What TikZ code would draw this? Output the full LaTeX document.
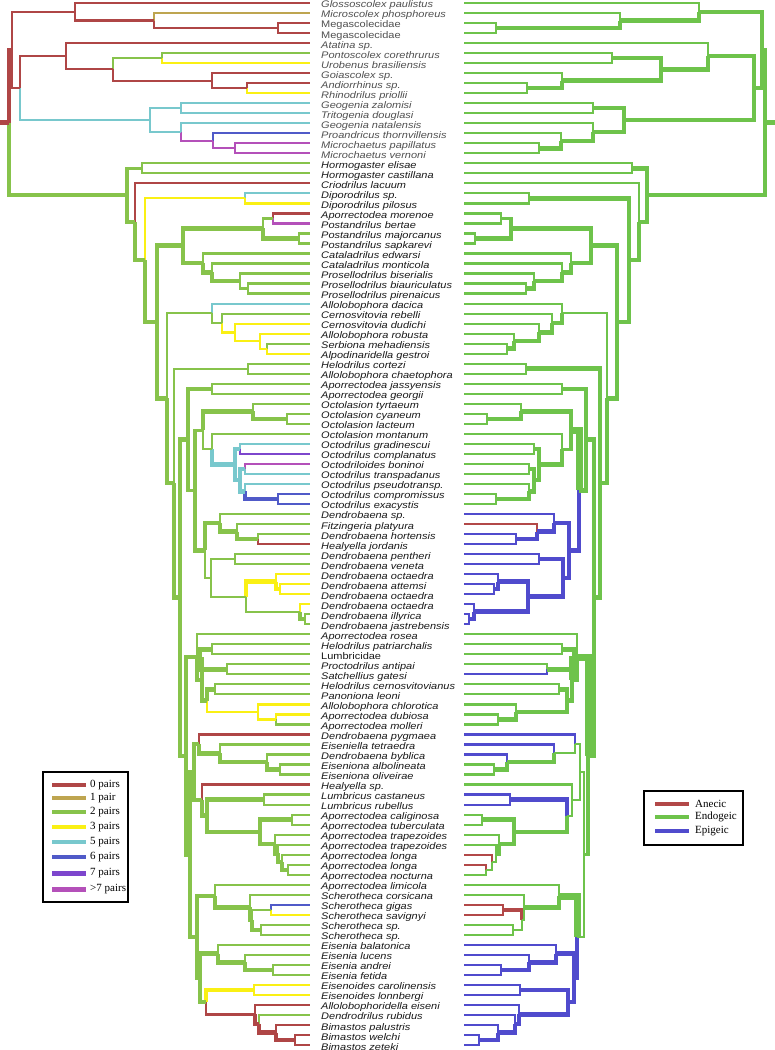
\documentclass[tikz,border=0pt]{standalone}
\usepackage{fontspec}
\setmainfont{Liberation Sans}
\newfontfamily\serifL{Liberation Serif}
\usetikzlibrary{calc}
\definecolor{p0}{RGB}{175,70,70}
\definecolor{p1}{RGB}{190,165,80}
\definecolor{p2}{RGB}{135,195,75}
\definecolor{p3}{RGB}{250,240,20}
\definecolor{p5}{RGB}{120,200,205}
\definecolor{p6}{RGB}{80,90,200}
\definecolor{p7}{RGB}{125,70,205}
\definecolor{p8}{RGB}{180,80,185}
\definecolor{an}{RGB}{178,72,72}
\definecolor{en}{RGB}{110,195,75}
\definecolor{ep}{RGB}{80,75,205}
\definecolor{txt}{RGB}{25,25,25}
\definecolor{txg}{RGB}{80,80,80}
\newcommand\tax[3]{%
  \coordinate (L-t#1) at (310,#1);
  \coordinate (R-t#1) at (464,#1);
  \node[lab,#3] (n#1) at (321,#1+0.22) {\scalebox{1}[0.87]{#2}};}
\newcommand\cla[8]{%
  \path let \p1=($(L-#3)!.5!(L-#4)$) in (#2pt,\y1) coordinate (L-#1) ({(774-#2)*1pt},\y1) coordinate (R-#1);
  \draw[#5] (L-#1) |- (L-#3);
  \draw[#6] (R-#1) |- (R-#3);
  \draw[#7] (L-#1) |- (L-#4);
  \draw[#8] (R-#1) |- (R-#4);}
\begin{document}
\begin{tikzpicture}[x=1pt,y=-10.02pt,line join=miter,
  w1/.style={line width=2.2pt},
  w2/.style={line width=3.2pt},
  w3/.style={line width=4.5pt},
  w4/.style={line width=7pt},
  lab/.style={anchor=west,inner sep=0pt,text height=8pt,text depth=2.5pt,text=txt,font=\fontsize{11}{11}\selectfont\itshape},
  up/.style={font=\fontsize{11}{11}\selectfont\upshape},
  gr/.style={text=txg},
  leg/.style={anchor=west,inner sep=0pt,font=\serifL\fontsize{11}{11}\selectfont}]
\useasboundingbox (0,0.7006) rectangle (774,105.49);
\fill[white] (0,0.7006) rectangle (774,105.49);
% taxa
\tax{1}{Glossoscolex paulistus}{gr}
\tax{2}{Microscolex phosphoreus}{gr}
\tax{3}{Megascolecidae}{gr,up}
\tax{4}{Megascolecidae}{gr,up}
\tax{5}{Atatina sp.}{gr}
\tax{6}{Pontoscolex corethrurus}{gr}
\tax{7}{Urobenus brasiliensis}{gr}
\tax{8}{Goiascolex sp.}{gr}
\tax{9}{Andiorrhinus sp.}{gr}
\tax{10}{Rhinodrilus priollii}{gr}
\tax{11}{Geogenia zalomisi}{gr}
\tax{12}{Tritogenia douglasi}{gr}
\tax{13}{Geogenia natalensis}{gr}
\tax{14}{Proandricus thornvillensis}{gr}
\tax{15}{Microchaetus papillatus}{gr}
\tax{16}{Microchaetus vernoni}{gr}
\tax{17}{Hormogaster elisae}{}
\tax{18}{Hormogaster castillana}{}
\tax{19}{Criodrilus lacuum}{}
\tax{20}{Diporodrilus sp.}{}
\tax{21}{Diporodrilus pilosus}{}
\tax{22}{Aporrectodea morenoe}{}
\tax{23}{Postandrilus bertae}{}
\tax{24}{Postandrilus majorcanus}{}
\tax{25}{Postandrilus sapkarevi}{}
\tax{26}{Cataladrilus edwarsi}{}
\tax{27}{Cataladrilus monticola}{}
\tax{28}{Prosellodrilus biserialis}{}
\tax{29}{Prosellodrilus biauriculatus}{}
\tax{30}{Prosellodrilus pirenaicus}{}
\tax{31}{Allolobophora dacica}{}
\tax{32}{Cernosvitovia rebelli}{}
\tax{33}{Cernosvitovia dudichi}{}
\tax{34}{Allolobophora robusta}{}
\tax{35}{Serbiona mehadiensis}{}
\tax{36}{Alpodinaridella gestroi}{}
\tax{37}{Helodrilus cortezi}{}
\tax{38}{Allolobophora chaetophora}{}
\tax{39}{Aporrectodea jassyensis}{}
\tax{40}{Aporrectodea georgii}{}
\tax{41}{Octolasion tyrtaeum}{}
\tax{42}{Octolasion cyaneum}{}
\tax{43}{Octolasion lacteum}{}
\tax{44}{Octolasion montanum}{}
\tax{45}{Octodrilus gradinescui}{}
\tax{46}{Octodrilus complanatus}{}
\tax{47}{Octodriloides boninoi}{}
\tax{48}{Octodrilus transpadanus}{}
\tax{49}{Octodrilus pseudotransp.}{}
\tax{50}{Octodrilus compromissus}{}
\tax{51}{Octodrilus exacystis}{}
\tax{52}{Dendrobaena sp.}{}
\tax{53}{Fitzingeria platyura}{}
\tax{54}{Dendrobaena hortensis}{}
\tax{55}{Healyella jordanis}{}
\tax{56}{Dendrobaena pentheri}{}
\tax{57}{Dendrobaena veneta}{}
\tax{58}{Dendrobaena octaedra}{}
\tax{59}{Dendrobaena attemsi}{}
\tax{60}{Dendrobaena octaedra}{}
\tax{61}{Dendrobaena octaedra}{}
\tax{62}{Dendrobaena illyrica}{}
\tax{63}{Dendrobaena jastrebensis}{}
\tax{64}{Aporrectodea rosea}{}
\tax{65}{Helodrilus patriarchalis}{}
\tax{66}{Lumbricidae}{up}
\tax{67}{Proctodrilus antipai}{}
\tax{68}{Satchellius gatesi}{}
\tax{69}{Helodrilus cernosvitovianus}{}
\tax{70}{Panoniona leoni}{}
\tax{71}{Allolobophora chlorotica}{}
\tax{72}{Aporrectodea dubiosa}{}
\tax{73}{Aporrectodea molleri}{}
\tax{74}{Dendrobaena pygmaea}{}
\tax{75}{Eiseniella tetraedra}{}
\tax{76}{Dendrobaena byblica}{}
\tax{77}{Eiseniona albolineata}{}
\tax{78}{Eiseniona oliveirae}{}
\tax{79}{Healyella sp.}{}
\tax{80}{Lumbricus castaneus}{}
\tax{81}{Lumbricus rubellus}{}
\tax{82}{Aporrectodea caliginosa}{}
\tax{83}{Aporrectodea tuberculata}{}
\tax{84}{Aporrectodea trapezoides}{}
\tax{85}{Aporrectodea trapezoides}{}
\tax{86}{Aporrectodea longa}{}
\tax{87}{Aporrectodea longa}{}
\tax{88}{Aporrectodea nocturna}{}
\tax{89}{Aporrectodea limicola}{}
\tax{90}{Scherotheca corsicana}{}
\tax{91}{Scherotheca gigas}{}
\tax{92}{Scherotheca savignyi}{}
\tax{93}{Scherotheca sp.}{}
\tax{94}{Scherotheca sp.}{}
\tax{95}{Eisenia balatonica}{}
\tax{96}{Eisenia lucens}{}
\tax{97}{Eisenia andrei}{}
\tax{98}{Eisenia fetida}{}
\tax{99}{Eisenoides carolinensis}{}
\tax{100}{Eisenoides lonnbergi}{}
\tax{101}{Allolobophoridella eiseni}{}
\tax{102}{Dendrodrilus rubidus}{}
\tax{103}{Bimastos palustris}{}
\tax{104}{Bimastos welchi}{}
\tax{105}{Bimastos zeteki}{}
% clades (name, x, child1, child2, L1, R1, L2, R2)
\cla{Mega}{278}{t3}{t4}{p0,w1}{en,w1}{p0,w1}{en,w1}
\cla{A1b}{154}{t2}{Mega}{p1,w1}{en,w1}{p0,w1}{en,w3}
\cla{A1}{75}{t1}{A1b}{p0,w1}{en,w1}{p0,w1}{en,w3}
\cla{PU}{162}{t6}{t7}{p2,w1}{en,w1}{p3,w1}{en,w1}
\cla{AR}{247}{t9}{t10}{p0,w1}{en,w1}{p3,w1}{en,w1}
\cla{GAR}{212}{t8}{AR}{p0,w1}{en,w1}{p0,w1}{en,w3}
\cla{AAa}{113}{PU}{GAR}{p2,w1}{en,w3}{p0,w1}{en,w3}
\cla{Aa}{66}{t5}{AAa}{p0,w1}{en,w1}{p0,w1}{en,w3}
\cla{GT}{181}{t11}{t12}{p5,w1}{en,w1}{p5,w1}{en,w1}
\cla{M}{235}{t15}{t16}{p8,w1}{en,w1}{p8,w1}{en,w1}
\cla{PM}{213}{t14}{M}{p6,w1}{en,w1}{p8,w1}{en,w3}
\cla{GP}{181}{t13}{PM}{p5,w1}{en,w1}{p8,w1}{en,w3}
\cla{Ab}{150}{GT}{GP}{p5,w1}{en,w3}{p5,w1}{en,w3}
\cla{AA}{20}{Aa}{Ab}{p0,w1}{en,w3}{p5,w1}{en,w3}
\cla{A}{12}{A1}{AA}{p0,w1}{en,w3}{p0,w1}{en,w3}
\cla{H}{142}{t17}{t18}{p2,w1}{en,w1}{p2,w1}{en,w1}
\cla{Dip}{245}{t20}{t21}{p5,w1}{en,w1}{p3,w1}{en,w1}
\cla{AP}{273}{t22}{t23}{p0,w1}{en,w1}{p8,w1}{en,w1}
\cla{PMS}{299}{t24}{t25}{p2,w1}{en,w1}{p2,w1}{en,w1}
\cla{Post}{263}{AP}{PMS}{p2,w1}{en,w2}{p2,w3}{en,w3}
\cla{Pros2}{248}{t29}{t30}{p2,w1}{en,w1}{p2,w1}{en,w1}
\cla{Pros}{240}{t28}{Pros2}{p2,w1}{en,w1}{p2,w1}{en,w3}
\cla{CP2}{212}{t27}{Pros}{p2,w1}{en,w1}{p2,w3}{en,w3}
\cla{CP}{203}{t26}{CP2}{p2,w1}{en,w1}{p2,w3}{en,w3}
\cla{PC}{183}{Post}{CP}{p2,w3}{en,w3}{p2,w3}{en,w3}
\cla{SA}{267}{t35}{t36}{p2,w1}{en,w1}{p3,w1}{en,w1}
\cla{DC4}{260}{t34}{SA}{p3,w1}{en,w1}{p3,w1}{en,w3}
\cla{DC3}{235}{t33}{DC4}{p3,w1}{en,w1}{p3,w1}{en,w3}
\cla{DC2}{222}{t32}{DC3}{p2,w1}{en,w1}{p3,w1}{en,w3}
\cla{DC}{212}{t31}{DC2}{p5,w1}{en,w1}{p2,w1}{en,w3}
\cla{HC}{248}{t37}{t38}{p2,w1}{en,w1}{p2,w1}{en,w1}
\cla{AJ}{212}{t39}{t40}{p2,w1}{en,w1}{p2,w1}{en,w1}
\cla{OL}{287}{t42}{t43}{p2,w1}{en,w1}{p2,w1}{en,w1}
\cla{Oct}{253}{t41}{OL}{p2,w1}{en,w1}{p2,w3}{en,w3}
\cla{GC}{240}{t45}{t46}{p5,w1}{en,w1}{p7,w1}{en,w1}
\cla{BT}{245}{t47}{t48}{p8,w1}{en,w1}{p5,w1}{en,w1}
\cla{CE}{278}{t50}{t51}{p6,w1}{en,w1}{p6,w1}{en,w1}
\cla{PCE}{245}{t49}{CE}{p5,w1}{en,w1}{p6,w3}{en,w3}
\cla{OD2}{240}{BT}{PCE}{p5,w3}{en,w3}{p5,w3}{en,w3}
\cla{OD}{235}{GC}{OD2}{p5,w3}{en,w3}{p5,w3}{en,w3}
\cla{OM}{212}{t44}{OD}{p2,w1}{en,w1}{p5,w3}{en,w3}
\cla{OO}{203}{Oct}{OM}{p2,w3}{en,w3}{p2,w1}{en,w2}
\cla{HJ}{258}{t54}{t55}{p2,w1}{ep,w1}{p0,w1}{ep,w1}
\cla{FH}{237}{t53}{HJ}{p2,w1}{an,w1}{p2,w3}{ep,w3}
\cla{DF}{220}{t52}{FH}{p2,w1}{ep,w1}{p2,w3}{ep,w3}
\cla{PV}{235}{t56}{t57}{p2,w1}{ep,w1}{p2,w1}{ep,w1}
\cla{A59}{280}{t59}{t60}{p3,w1}{ep,w1}{p3,w1}{ep,w1}
\cla{OA}{276}{t58}{A59}{p3,w1}{ep,w1}{p3,w3}{ep,w3}
\cla{IJ}{305}{t62}{t63}{p2,w1}{ep,w1}{p2,w1}{ep,w1}
\cla{OIJ}{300}{t61}{IJ}{p3,w1}{ep,w1}{p2,w3}{ep,w3}
\cla{OCT}{246}{OA}{OIJ}{p3,w3}{ep,w3}{p2,w1}{ep,w3}
\cla{PVO}{211}{PV}{OCT}{p2,w1}{ep,w3}{p2,w1}{ep,w3}
\cla{DB}{205}{DF}{PVO}{p2,w3}{ep,w3}{p2,w1}{ep,w3}
\cla{ODB}{195}{OO}{DB}{p2,w2}{en,w4}{p2,w3}{ep,w3}
\cla{AJODB}{188}{AJ}{ODB}{p2,w3}{en,w3}{p2,w2}{en,w3}
\cla{HL}{212}{t65}{t66}{p2,w1}{en,w1}{p2,w1}{en,w1}
\cla{PS}{227}{t67}{t68}{p2,w1}{en,w1}{p2,w1}{ep,w1}
\cla{HLPS}{200}{HL}{PS}{p2,w3}{en,w3}{p2,w3}{en,w3}
\cla{HP}{215}{t69}{t70}{p2,w1}{en,w1}{p2,w1}{en,w1}
\cla{DM}{276}{t72}{t73}{p3,w1}{en,w1}{p2,w1}{en,w1}
\cla{CDM}{258}{t71}{DM}{p3,w1}{en,w1}{p3,w1}{en,w3}
\cla{HPC}{207}{HP}{CDM}{p2,w3}{en,w3}{p3,w1}{en,w3}
\cla{X1b}{202}{HLPS}{HPC}{p2,w3}{en,w4}{p2,w3}{en,w3}
\cla{X1}{197}{t64}{X1b}{p2,w1}{en,w1}{p2,w3}{en,w3}
\cla{AO}{280}{t77}{t78}{p2,w1}{en,w1}{p2,w1}{en,w1}
\cla{BE}{267}{t76}{AO}{p2,w1}{ep,w1}{p2,w3}{en,w3}
\cla{TBE}{220}{t75}{BE}{p2,w1}{ep,w1}{p2,w3}{en,w3}
\cla{X2}{199}{t74}{TBE}{p0,w1}{ep,w1}{p2,w3}{en,w1}
\cla{LU}{264}{t80}{t81}{p2,w1}{ep,w1}{p2,w1}{ep,w1}
\cla{CT}{292}{t82}{t83}{p2,w1}{en,w1}{p2,w1}{en,w1}
\cla{T4}{288}{t87}{t88}{p2,w1}{an,w1}{p2,w1}{en,w1}
\cla{T3}{282}{t86}{T4}{p2,w1}{an,w1}{p2,w3}{en,w1}
\cla{T2}{278}{t85}{T3}{p2,w1}{en,w1}{p2,w3}{en,w1}
\cla{T1}{275}{t84}{T2}{p2,w1}{en,w1}{p2,w3}{en,w3}
\cla{CTT}{260}{CT}{T1}{p2,w3}{en,w3}{p2,w3}{en,w3}
\cla{LCT}{207}{LU}{CTT}{p2,w3}{ep,w3}{p2,w3}{en,w3}
\cla{X3}{202}{t79}{LCT}{p0,w1}{en,w1}{p2,w3}{en,w1}
\cla{X23}{194}{X2}{X3}{p2,w3}{en,w1}{p2,w3}{en,w1}
\cla{GS}{271}{t91}{t92}{p6,w1}{an,w1}{p3,w1}{an,w1}
\cla{SS}{261}{t93}{t94}{p2,w1}{en,w1}{p2,w1}{en,w1}
\cla{GSS}{252}{GS}{SS}{p2,w1}{an,w3}{p2,w3}{en,w1}
\cla{CGS}{250}{t90}{GSS}{p2,w1}{en,w1}{p2,w3}{en,w1}
\cla{X4}{215}{t89}{CGS}{p2,w1}{en,w1}{p2,w3}{en,w3}
\cla{AF}{273}{t97}{t98}{p2,w1}{ep,w1}{p2,w1}{ep,w1}
\cla{LAF}{245}{t96}{AF}{p2,w1}{ep,w1}{p2,w3}{ep,w3}
\cla{X5}{218}{t95}{LAF}{p2,w1}{ep,w1}{p2,w3}{ep,w3}
\cla{EC}{254}{t99}{t100}{p3,w1}{ep,w1}{p3,w1}{ep,w1}
\cla{WZ}{295}{t104}{t105}{p0,w1}{ep,w1}{p0,w1}{ep,w1}
\cla{PWZ}{276}{t103}{WZ}{p0,w1}{ep,w1}{p0,w3}{ep,w3}
\cla{DBz}{259}{t102}{PWZ}{p2,w1}{ep,w1}{p0,w3}{ep,w3}
\cla{ADB}{255}{t101}{DBz}{p0,w1}{ep,w1}{p0,w3}{ep,w3}
\cla{X6}{206}{EC}{ADB}{p3,w3}{ep,w3}{p0,w1}{ep,w3}
\cla{X56}{200}{X5}{X6}{p2,w3}{ep,w3}{p2,w3}{ep,w3}
\cla{X456}{197}{X4}{X56}{p2,w3}{en,w4}{p2,w3}{ep,w3}
\cla{X236}{190}{X23}{X456}{p2,w3}{en,w1}{p2,w3}{en,w1}
\cla{LOW}{186}{X1}{X236}{p2,w3}{en,w4}{p2,w3}{en,w2}
\cla{B7}{180}{AJODB}{LOW}{p2,w3}{en,w3}{p2,w3}{en,w3}
\cla{B6}{174}{HC}{B7}{p2,w1}{en,w3}{p2,w3}{en,w3}
\cla{B5}{167}{DC}{B6}{p2,w1}{en,w1}{p2,w3}{en,w3}
\cla{B4}{157}{PC}{B5}{p2,w3}{en,w3}{p2,w3}{en,w3}
\cla{B3}{145}{Dip}{B4}{p3,w1}{en,w3}{p2,w3}{en,w3}
\cla{B2}{135}{t19}{B3}{p0,w1}{en,w1}{p2,w3}{en,w3}
\cla{B}{127}{H}{B2}{p2,w2}{en,w3}{p2,w3}{en,w3}
\cla{Root}{9}{A}{B}{p0,w3}{en,w3}{p2,w3}{en,w3}
\path (L-Root) ++(-10pt,0) coordinate (L-stub);
\path (R-Root) ++(10pt,0) coordinate (R-stub);
\draw[p0,w3] (L-Root) -- (L-stub);
\draw[en,w3] (R-Root) -- (R-stub);
% legend left
\draw[line width=1.5pt] (43,77.75) rectangle (128,90.72);
\foreach \c/\t/\r [count=\i] in {p0/0 pairs/79.05,p1/1 pair/80.35,p2/2 pairs/81.75,p3/3 pairs/83.25,p5/5 pairs/84.75,p6/6 pairs/86.25,p7/7 pairs/87.85,p8/>7 pairs/89.45}{
  \draw[\c,line width=4.5pt] (52,\r) -- (86,\r);
  \node[leg] (lg\i) at (90,\r) {\t};
}
% legend right
\draw[line width=1.5pt] (644,79.64) rectangle (743,85.03);
\foreach \c/\t/\r [count=\i] in {an/Anecic/80.94,en/Endogeic/82.24,ep/Epigeic/83.64}{
  \draw[\c,line width=4.5pt] (655,\r) -- (689,\r);
  \node[leg] (lr\i) at (695,\r) {\t};
}
\end{tikzpicture}
\end{document}
